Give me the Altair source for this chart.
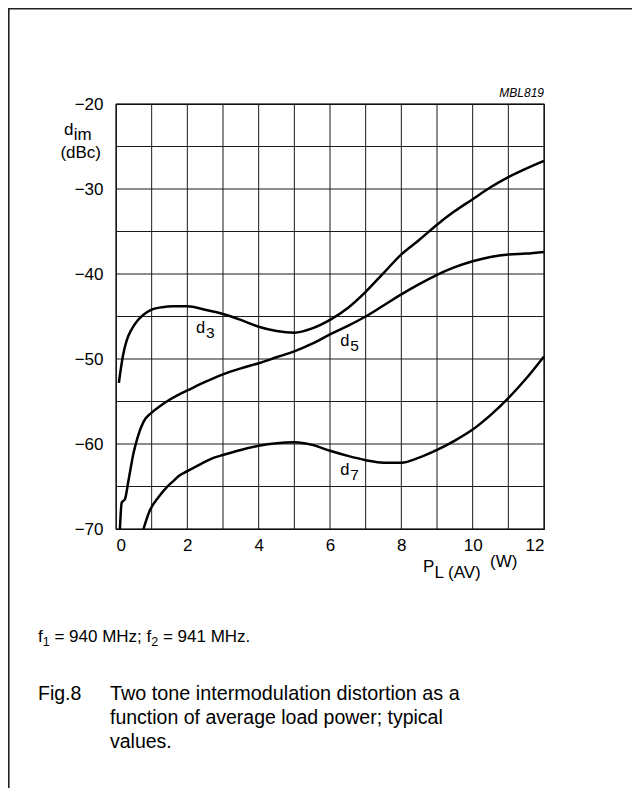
import altair as alt
import pandas as pd

# ---- data ----
d3_x = [0.08, 0.2, 0.3, 0.44, 0.6, 0.77, 1.0, 1.3, 1.6, 2.0, 2.5, 3.0, 3.5, 4.0, 4.5, 5.0, 5.5, 6.0,
        6.5, 7.0, 7.5, 8.0, 8.5, 9.0, 9.5, 10.0, 10.5, 11.0, 11.5, 12.0]
d3_y = [-52.8, -49.5, -47.8, -46.5, -45.5, -44.8, -44.2, -43.9, -43.8, -43.8, -44.2, -44.7, -45.4,
        -46.2, -46.7, -46.9, -46.4, -45.4, -44.0, -42.1, -39.9, -37.7, -36.0, -34.2, -32.6, -31.2,
        -29.8, -28.6, -27.6, -26.7]

d5_x = [0.11, 0.16, 0.25, 0.35, 0.49, 0.6, 0.77, 1.0, 1.25, 1.5, 1.8, 2.0, 2.5, 3.0, 3.5, 4.0, 4.5,
        5.0, 5.5, 6.0, 6.5, 7.0, 7.5, 8.0, 8.5, 9.0, 9.5, 10.0, 10.5, 11.0, 11.5, 12.0]
d5_y = [-70.0, -66.9, -66.5, -64.3, -61.1, -59.3, -57.4, -56.3, -55.5, -54.8, -54.1, -53.7, -52.7,
        -51.8, -51.1, -50.5, -49.8, -49.1, -48.2, -47.1, -46.1, -45.0, -43.7, -42.4, -41.2, -40.1,
        -39.2, -38.5, -38.0, -37.7, -37.6, -37.4]

d7_x = [0.77, 0.95, 1.2, 1.42, 1.65, 1.75, 2.0, 2.4, 2.75, 3.0, 3.5, 4.0, 4.5, 5.0, 5.5, 6.0, 6.5,
        7.0, 7.5, 8.0, 8.5, 9.0, 9.5, 10.0, 10.5, 11.0, 11.5, 12.0]
d7_y = [-70.0, -67.8, -66.2, -65.1, -64.2, -63.8, -63.2, -62.3, -61.6, -61.3, -60.7, -60.2, -59.9,
        -59.8, -60.1, -60.8, -61.4, -61.9, -62.2, -62.2, -61.6, -60.7, -59.6, -58.3, -56.6, -54.6,
        -52.3, -49.7]

label_main = ["d", "d", "d"]
label_sub = ["3", "5", "7"]
label_x = [2.24, 6.29, 6.29]
label_y = [-46.9, -48.5, -63.6]

x_grid = list(range(0, 13))
x_labels = list(range(0, 13, 2))
y_grid = list(range(-70, -19, 5))
y_labels = list(range(-70, -19, 10))

FONT = "Liberation Sans"

rows = []
for name, xs_, ys_ in [("d3", d3_x, d3_y), ("d5", d5_x, d5_y), ("d7", d7_x, d7_y)]:
    for i, (a, b) in enumerate(zip(xs_, ys_)):
        rows.append({"series": name, "x": a, "y": b, "i": i})
df = pd.DataFrame(rows)

lab = pd.DataFrame({"main": label_main, "sub": label_sub, "x": label_x, "y": label_y})

xs = alt.Scale(domain=[0, 12], nice=False, zero=False)
ys = alt.Scale(domain=[-70, -20], nice=False, zero=False)

xaxis = alt.Axis(values=x_labels, grid=False, ticks=False, domain=False, title=None,
                 labelOverlap=False, labelPadding=8, labelFontSize=17, labelFont=FONT,
                 labelColor="black")
yaxis = alt.Axis(values=y_labels, grid=False, ticks=False, domain=False, title=None,
                 labelExpr="'\u2212' + abs(datum.value)",
                 labelOverlap=False, labelPadding=13, labelFontSize=17, labelFont=FONT,
                 labelColor="black")

GRID = "#1a1a1a"
vgrid = alt.Chart(pd.DataFrame({"g": x_grid})).mark_rule(color=GRID, strokeWidth=1).encode(
    x=alt.X("g:Q", scale=xs, axis=xaxis))
hgrid = alt.Chart(pd.DataFrame({"g": y_grid})).mark_rule(color=GRID, strokeWidth=1).encode(
    y=alt.Y("g:Q", scale=ys, axis=yaxis))

lines = alt.Chart(df).mark_line(strokeWidth=2.5, interpolate="monotone", clip=True,
                                color="black").encode(
    x=alt.X("x:Q", scale=xs),
    y=alt.Y("y:Q", scale=ys),
    detail="series:N",
    order="i:Q",
)

lab_main = alt.Chart(lab).mark_text(font=FONT, fontSize=16.5, align="left", baseline="alphabetic",
                                    color="black").encode(
    x=alt.X("x:Q", scale=xs), y=alt.Y("y:Q", scale=ys), text="main:N")
lab_sub = alt.Chart(lab).mark_text(font=FONT, fontSize=15.5, align="left", baseline="alphabetic",
                                   color="black", dx=10, dy=5).encode(
    x=alt.X("x:Q", scale=xs), y=alt.Y("y:Q", scale=ys), text="sub:N")

# ---- annotations (positions in pixels relative to the plot area) ----
one = pd.DataFrame({"k": [0]})


def note(t, px, py, fs, align="left", style="normal"):
    return alt.Chart(one).mark_text(font=FONT, fontSize=fs, align=align, fontStyle=style,
                                    baseline="alphabetic", color="black").encode(
        x=alt.value(px), y=alt.value(py), text=alt.value(t))


notes = [
    note("d", -52, 31, 17),
    note("im", -42.3, 36, 17),
    note("(dBc)", -15, 54, 17, "right"),
    note("MBL819", 428, -7, 12, "right", "italic"),
    note("P", 307, 468, 17),
    note("L (AV)", 318.5, 474, 17),
    note("(W)", 374, 463, 17),
    note("f", -78, 538, 17),
    note("1", -73.3, 542, 12.5),
    note("= 940 MHz; f", -61.6, 538, 17),
    note("2", 35.2, 542, 12.5),
    note("= 941 MHz.", 46.9, 538, 17),
    note("Fig.8", -78, 596, 19.5),
    note("Two tone intermodulation distortion as a", -6, 596, 19.8),
    note("function of average load power; typical", -6, 620, 19.5),
    note("values.", -6, 644, 19.5),
]

top_rule = alt.Chart(one).mark_rule(color="#222", strokeWidth=1.6).encode(
    x=alt.value(-108), x2=alt.value(520), y=alt.value(-95.2))
left_rule = alt.Chart(one).mark_rule(color="#222", strokeWidth=1.6).encode(
    x=alt.value(-107.2), y=alt.value(-96), y2=alt.value(700))

chart = alt.layer(vgrid, hgrid, lines, lab_main, lab_sub, *notes, top_rule, left_rule).properties(
    width=428, height=425,
    autosize=alt.AutoSizeParams(type="none"),
    padding={"left": 108, "top": 96, "right": 88, "bottom": 259},
    background="white",
).configure_view(stroke="black", strokeWidth=1.2)

chart.save("out.html", embed_options={"renderer": "svg", "actions": False})
